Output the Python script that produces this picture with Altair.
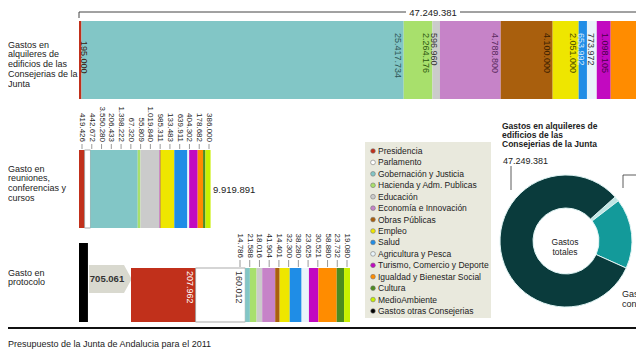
import math
import altair as alt
import pandas as pd

FONT = "Liberation Sans"

# ---------------- data ----------------
cats = ["Presidencia", "Parlamento", "Gobernación y Justicia", "Hacienda y Adm. Publicas",
        "Educación", "Economía e Innovación", "Obras Públicas", "Empleo", "Salud",
        "Agricultura y Pesca", "Turismo, Comercio y Deporte", "Igualdad y Bienestar Social",
        "Cultura", "MedioAmbiente", "Gastos otras Consejerias"]
palette = ["#c1301b", "#ffffff", "#82c6c6", "#a8e06c", "#cbcbcb", "#c683c8", "#a95f0d",
           "#eee600", "#1f8de6", "#e9f4fa", "#c209c0", "#ff8c00", "#4d8b1f", "#c9f000", "#000000"]
label_palette = ["#3a1a10", "#333333", "#2f5656", "#2e5a10", "#333333", "#5a2a60", "#3a2000",
                 "#4a4a00", "#d6ecff", "#333333", "#4a004a", "#663300", "#ffffff", "#333333", "#ffffff"]

alquiler_cats = ["Presidencia", "Gobernación y Justicia", "Hacienda y Adm. Publicas", "Educación",
                 "Economía e Innovación", "Obras Públicas", "Empleo", "Salud", "Agricultura y Pesca",
                 "Turismo, Comercio y Deporte", "Igualdad y Bienestar Social", "Cultura", "MedioAmbiente"]
alquiler_vals = [195000, 25417734, 2264176, 596960, 4788800, 4100000, 2051000, 653992, 773972,
                 1098105, 3109642, 1300000, 900000]
alquiler_total = 47249381

reuniones_cats = ["Presidencia", "Parlamento", "Gobernación y Justicia", "Hacienda y Adm. Publicas",
                  "Educación", "Economía e Innovación", "Obras Públicas", "Empleo", "Salud",
                  "Agricultura y Pesca", "Turismo, Comercio y Deporte", "Igualdad y Bienestar Social",
                  "Cultura", "MedioAmbiente"]
reuniones_vals = [419426, 442672, 3550280, 206433, 1398222, 67320, 55809, 1019840, 985311,
                  133483, 639911, 404302, 178682, 386000]
reuniones_total = 9919891

protocolo_cats = list(reuniones_cats)
protocolo_vals = [207962, 160012, 14786, 21588, 18016, 41904, 14401, 32300, 38280, 23625,
                  30521, 58880, 23732, 19080]
protocolo_total = 705061

pie_cats = ["Gasto en protocolo", "Gasto en reuniones, conferencias y cursos",
            "Gastos en alquileres de edificios de las Consejerias de la Junta"]
pie_vals = [protocolo_total, reuniones_total, alquiler_total]
pie_colors = ["#bfe6e4", "#139a9a", "#0a3b3c"]

row_titles = [["Gastos en", "alquileres de", "edificios de las", "Consejerias de la", "Junta"],
              ["Gasto en", "reuniones,", "conferencias y", "cursos"],
              ["Gasto en", "protocolo"]]
footer = "Presupuesto de la Junta de Andalucia para el 2011"


def fmt(v):
    return f"{v:,}".replace(",", ".")


def segments(cl, vals):
    ends, s = [], 0
    for v in vals:
        s += v
        ends.append(s)
    starts = [e - v for e, v in zip(ends, vals)]
    return pd.DataFrame({"cat": cl, "value": vals, "start": starts, "end": ends,
                         "label": [fmt(v) for v in vals], "idx": list(range(len(vals)))})


df_a = segments(alquiler_cats, alquiler_vals)
df_r = segments(reuniones_cats, reuniones_vals)
df_p = segments(protocolo_cats, protocolo_vals)
df_pie = pd.DataFrame({"name": pie_cats, "value": pie_vals, "idx": [0, 1, 2]})
df_tot = pd.DataFrame({"start": [0], "a": [alquiler_total], "r": [reuniones_total],
                       "p": [protocolo_total], "ta": [fmt(alquiler_total)],
                       "tr": [fmt(reuniones_total)], "tp": [fmt(protocolo_total)]})
df_leg = pd.DataFrame({"cat": cats})
dummy = pd.DataFrame({"a": [0]})

cscale = alt.Scale(domain=cats, range=palette)
lscale = alt.Scale(domain=cats, range=label_palette)
xa = alt.Scale(domain=[0, alquiler_total], range=[71, 670])
xr = alt.Scale(domain=[0, reuniones_total], range=[71, 203])
xp = alt.Scale(domain=[0, sum(protocolo_vals)], range=[123, 342])

col = alt.Color("cat:N", scale=cscale, legend=None)
lcol = alt.Color("cat:N", scale=lscale, legend=None)
pstroke = alt.condition("datum.cat == 'Parlamento'", alt.value("#888888"), alt.value("transparent"))

layers = []

# ---- row titles ----
for lines, ytop, lh in zip(row_titles, [32.5, 156.5, 260.5], [9.8, 9.7, 9.2]):
    layers.append(alt.Chart(dummy).mark_text(align="left", baseline="top", font=FONT, fontSize=9,
                                             lineHeight=lh, color="#222222").encode(
        x=alt.value(0), y=alt.value(ytop), text=alt.value(lines)))

# ---- top row: alquileres ----
layers.append(alt.Chart(df_tot).mark_rule(color="#444444", strokeWidth=1).encode(
    x=alt.X("start:Q", scale=xa, axis=None), x2="a:Q", y=alt.value(4)))
layers.append(alt.Chart(df_tot).mark_rule(color="#444444", strokeWidth=1).encode(
    x=alt.X("start:Q", scale=xa, axis=None), y=alt.value(4), y2=alt.value(10)))
layers.append(alt.Chart(dummy).mark_rect(color="white").encode(
    x=alt.value(398), x2=alt.value(452), y=alt.value(0), y2=alt.value(9)))
layers.append(alt.Chart(df_tot).mark_text(font=FONT, fontSize=9.5, color="#222222", baseline="middle").encode(
    x=alt.value(425), y=alt.value(4.5), text="ta:N"))
layers.append(alt.Chart(df_a).mark_rect().encode(
    x=alt.X("start:Q", scale=xa, axis=None), x2="end:Q",
    y=alt.value(13), y2=alt.value(91), color=col))
layers.append(alt.Chart(df_a).transform_filter("datum.idx > 0 && datum.idx <= 9").mark_text(
    angle=90, align="left", baseline="middle", dy=6, font=FONT, fontSize=9).encode(
    x=alt.X("end:Q", scale=xa, axis=None), y=alt.value(25), text="label:N", color=lcol))
layers.append(alt.Chart(df_a).transform_filter("datum.idx == 0").mark_text(
    angle=90, align="left", baseline="middle", dy=-3, font=FONT, fontSize=9).encode(
    x=alt.X("end:Q", scale=xa, axis=None), y=alt.value(33), text="label:N", color=lcol))

# ---- middle row: reuniones ----
layers.append(alt.Chart(df_r).mark_rect(strokeWidth=0.7).encode(
    x=alt.X("start:Q", scale=xr, axis=None), x2="end:Q",
    y=alt.value(142), y2=alt.value(220), color=col, stroke=pstroke))
rlab = alt.Scale(type="point", domain=reuniones_cats, range=[74, 201], padding=0)
layers.append(alt.Chart(df_r).mark_text(angle=90, align="right", baseline="middle", font=FONT,
                                        fontSize=8, color="#222222").encode(
    x=alt.X("cat:N", scale=rlab, axis=None), y=alt.value(134), text="label:N"))
layers.append(alt.Chart(df_r).mark_rule(color="#555555", strokeWidth=0.6).encode(
    x=alt.X("cat:N", scale=rlab, axis=None), y=alt.value(136), y2=alt.value(141)))
layers.append(alt.Chart(df_tot).mark_text(align="left", baseline="middle", dx=2, font=FONT,
                                          fontSize=9.5, color="#222222").encode(
    x=alt.X("r:Q", scale=xr, axis=None), y=alt.value(182), text="tr:N"))

# ---- bottom row: protocolo ----
layers.append(alt.Chart(df_tot).mark_rect(color="black").encode(
    x=alt.X("start:Q", scale=xa, axis=None), x2="p:Q", y=alt.value(235), y2=alt.value(314)))
layers.append(alt.Chart(dummy).mark_rect(color="#d9d9cf").encode(
    x=alt.value(81), x2=alt.value(116), y=alt.value(257), y2=alt.value(285)))
layers.append(alt.Chart(dummy).mark_point(shape="M0,-1L0.55,0L0,1Z", size=784, filled=True,
                                          color="#d9d9cf", opacity=1).encode(
    x=alt.value(116), y=alt.value(271)))
layers.append(alt.Chart(df_tot).mark_text(font=FONT, fontSize=9.5, fontWeight="bold",
                                          color="#333333", baseline="middle").encode(
    x=alt.value(99), y=alt.value(271), text="tp:N"))
layers.append(alt.Chart(df_p).mark_rect(strokeWidth=0.7).encode(
    x=alt.X("start:Q", scale=xp, axis=None), x2="end:Q",
    y=alt.value(260), y2=alt.value(314), color=col, stroke=pstroke))
layers.append(alt.Chart(df_p).transform_filter("datum.idx < 2").mark_text(
    angle=90, align="left", baseline="middle", dy=6, font=FONT, fontSize=9).encode(
    x=alt.X("end:Q", scale=xp, axis=None), y=alt.value(263), text="label:N",
    color=alt.condition("datum.idx == 0", alt.value("white"), alt.value("#333333"))))
plab = alt.Scale(type="point", domain=protocolo_cats[2:], range=[232, 339], padding=0)
layers.append(alt.Chart(df_p).transform_filter("datum.idx >= 2").mark_text(
    angle=90, align="right", baseline="middle", font=FONT, fontSize=8, color="#222222").encode(
    x=alt.X("cat:N", scale=plab, axis=None), y=alt.value(250), text="label:N"))
layers.append(alt.Chart(df_p).transform_filter("datum.idx >= 2").mark_rule(
    color="#555555", strokeWidth=0.6).encode(
    x=alt.X("cat:N", scale=plab, axis=None), y=alt.value(252), y2=alt.value(259)))

# ---- legend ----
layers.append(alt.Chart(dummy).mark_rect(color="#e9e9dd").encode(
    x=alt.value(357), x2=alt.value(483), y=alt.value(134), y2=alt.value(310)))
lgy = alt.Scale(type="point", domain=cats, range=[143, 303], padding=0)
layers.append(alt.Chart(df_leg).mark_point(filled=True, size=22, stroke="#777777",
                                           strokeWidth=0.6, opacity=1).encode(
    x=alt.value(365), y=alt.Y("cat:N", scale=lgy, axis=None), fill=alt.Fill("cat:N", scale=cscale, legend=None)))
layers.append(alt.Chart(df_leg).mark_text(align="left", baseline="middle", font=FONT,
                                          fontSize=8.5, color="#222222").encode(
    x=alt.value(370), y=alt.Y("cat:N", scale=lgy, axis=None), text="cat:N"))

# ---- donut ----
layers.append(alt.Chart(df_pie).mark_arc(outerRadius=66, innerRadius=33, stroke="#dff4f4",
                                         strokeWidth=1).encode(
    theta=alt.Theta("value:Q", stack=True, scale=alt.Scale(range=[0.84, 0.84 + 2 * math.pi])),
    color=alt.Color("name:N", scale=alt.Scale(domain=pie_cats, range=pie_colors), legend=None),
    order=alt.Order("idx:Q"), x=alt.value(558), y=alt.value(233)))
layers.append(alt.Chart(dummy).mark_text(align="center", baseline="middle", font=FONT, fontSize=8.5,
                                         lineHeight=10, color="#222222").encode(
    x=alt.value(557), y=alt.value(234), text=alt.value(["Gastos", "totales"])))
layers.append(alt.Chart(dummy).mark_text(align="left", baseline="top", font=FONT, fontSize=8.5,
                                         fontWeight="bold", lineHeight=9, color="#222222").encode(
    x=alt.value(494), y=alt.value(114),
    text=alt.value(["Gastos en alquileres de", "edificios de las", "Consejerias de la Junta"])))
layers.append(alt.Chart(df_tot).mark_text(align="left", baseline="middle", font=FONT, fontSize=9,
                                          color="#222222").encode(
    x=alt.value(495), y=alt.value(153), text="ta:N"))
layers.append(alt.Chart(dummy).mark_rule(color="#333333", strokeWidth=0.8).encode(
    x=alt.value(503), y=alt.value(158), y2=alt.value(182)))
layers.append(alt.Chart(dummy).mark_rule(color="#333333", strokeWidth=0.8).encode(
    x=alt.value(615), y=alt.value(167), y2=alt.value(180)))
layers.append(alt.Chart(dummy).mark_rule(color="#333333", strokeWidth=0.8).encode(
    x=alt.value(615), x2=alt.value(640), y=alt.value(167)))
layers.append(alt.Chart(dummy).mark_text(align="left", baseline="top", font=FONT, fontSize=9,
                                         lineHeight=10, color="#222222").encode(
    x=alt.value(614), y=alt.value(282), text=alt.value(["Gasto en", "conferencias y"])))

# ---- footer ----
layers.append(alt.Chart(dummy).mark_rule(color="#111111", strokeWidth=2).encode(
    x=alt.value(0), x2=alt.value(636), y=alt.value(320)))
layers.append(alt.Chart(dummy).mark_text(align="left", baseline="middle", font=FONT, fontSize=9,
                                         color="#222222").encode(
    x=alt.value(0), y=alt.value(336), text=alt.value(footer)))

chart = alt.layer(*layers).resolve_scale(
    x="independent", y="independent", color="independent", fill="independent",
    theta="independent", stroke="independent"
).properties(width=628, height=346, autosize="none", padding=0).configure_view(stroke=None)

chart.save("out.html", embed_options={"renderer": "svg", "actions": False})
